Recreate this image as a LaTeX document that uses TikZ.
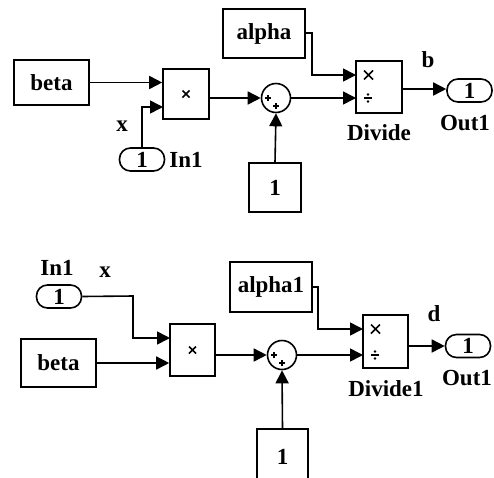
\documentclass[tikz,border=0pt]{standalone}
\usepackage{fontspec}
\setmainfont{Liberation Serif}
\usetikzlibrary{arrows.meta,calc}
\tikzset{
  every node/.style={font=\fontsize{23}{23}\selectfont\bfseries},
  blk/.style={draw, line width=1.6pt, inner sep=0pt},
  port/.style={draw, line width=1.6pt, inner sep=0pt, rounded corners=11pt, minimum width=45pt, minimum height=23pt},
  sumc/.style={draw, circle, line width=1.6pt, inner sep=0pt, minimum size=29pt},
  wire/.style={line width=1.6pt, -{Triangle[length=13pt,width=13pt]}},
  sym/.style={line width=1.7pt},
  lbl/.style={inner sep=0pt}
}
\begin{document}
\begin{tikzpicture}[x=1pt,y=-1pt]
\useasboundingbox (0,0) rectangle (494,477);
\clip (0,0) rectangle (494,477);
% ===== top diagram =====
\node[blk, minimum width=75pt, minimum height=45pt] (beta1) at (51.5,82.5) {beta};
\node[blk, minimum width=46pt, minimum height=50pt] (prod1) at (186,94) {};
\node[blk, minimum width=82pt, minimum height=49pt] (alpha1) at (264,33.5) {alpha};
\node[sumc] (sum1) at (276,98) {};
\node[blk, minimum width=46pt, minimum height=52pt] (div1) at (379,87) {};
\node[blk, minimum width=52pt, minimum height=49pt] (const1) at (275,187.5) {1};
\node[port] (out1) at (469.5,90.5) {1};
\node[port] (in1) at (142,159.5) {1};
\node[lbl] (in1l) at (186,160) {In1};
\node[lbl] (xl1) at (122,126) {x};
\node[lbl] (bl) at (428,60) {b};
\node[lbl] (divl1) at (379,133) {Divide};
\node[lbl] (out1l) at (465,123) {Out1};
\coordinate (p1b) at (163,107);
\coordinate (a1bend) at (312,33);
\coordinate (d1a) at (356,75);
\coordinate (d1b) at (356,98);
\coordinate (d1o) at (402,89);
% symbols
\draw[sym] ($(prod1)+(-3.5,-3.5)$) -- ($(prod1)+(3.5,3.5)$) ($(prod1)+(-3.5,3.5)$) -- ($(prod1)+(3.5,-3.5)$);
\draw[sym] ($(sum1)+(-11,0)$) -- ($(sum1)+(-5,0)$) ($(sum1)+(-8,-3)$) -- ($(sum1)+(-8,3)$);
\draw[sym] ($(sum1)+(-3,8)$) -- ($(sum1)+(3,8)$) ($(sum1)+(0,5)$) -- ($(sum1)+(0,11)$);
\draw[sym] ($(d1a)+(8,-4.5)$) -- ($(d1a)+(17,4.5)$) ($(d1a)+(8,4.5)$) -- ($(d1a)+(17,-4.5)$);
\draw[sym] ($(d1b)+(8,0)$) -- ($(d1b)+(16,0)$);
\fill ($(d1b)+(12,-3.5)$) circle (1.3pt) ($(d1b)+(12,3.5)$) circle (1.3pt);
% wires
\draw[wire] (beta1.east) -- (beta1.east -| prod1.west);
\draw[wire] (in1.north) |- (p1b);
\draw[wire] (prod1.east |- sum1) -- (sum1.west);
\draw[wire] (sum1.east) -- (d1b);
\draw[wire] (alpha1.east |- a1bend) -- (a1bend) |- (d1a);
\draw[wire] (const1.north) -- (sum1.south);
\draw[wire] (d1o) -- (d1o -| out1.west);
% ===== bottom diagram =====
\node[port] (in2) at (59,296.5) {1};
\node[lbl] (in2l) at (57,268) {In1};
\node[lbl] (xl2) at (105,272) {x};
\node[blk, minimum width=75pt, minimum height=48pt] (beta2) at (58.5,363) {beta};
\node[blk, minimum width=45pt, minimum height=52pt] (prod2) at (192.5,350) {};
\node[blk, minimum width=82pt, minimum height=50pt] (alpha2) at (271,287) {alpha1};
\node[sumc] (sum2) at (282,355) {};
\node[blk, minimum width=45pt, minimum height=53pt] (div2) at (385.5,341.5) {};
\node[blk, minimum width=51pt, minimum height=64pt, anchor=north] (const2) at (282.5,428) {};
\node[lbl] (const2t) at (282.5,457) {1};
\node[port] (out2) at (468,346) {1};
\node[lbl] (dl) at (434,314) {d};
\node[lbl] (divl2) at (386,389) {Divide1};
\node[lbl] (out2l) at (467,378) {Out1};
\coordinate (i2bend) at (133,296);
\coordinate (p2a) at (170,338);
\coordinate (a2bend) at (318,287);
\coordinate (d2a) at (363,329);
\coordinate (d2b) at (363,355);
\coordinate (d2o) at (408,346);
% symbols
\draw[sym] ($(prod2)+(-3.5,-3.5)$) -- ($(prod2)+(3.5,3.5)$) ($(prod2)+(-3.5,3.5)$) -- ($(prod2)+(3.5,-3.5)$);
\draw[sym] ($(sum2)+(-11,0)$) -- ($(sum2)+(-5,0)$) ($(sum2)+(-8,-3)$) -- ($(sum2)+(-8,3)$);
\draw[sym] ($(sum2)+(-3,8)$) -- ($(sum2)+(3,8)$) ($(sum2)+(0,5)$) -- ($(sum2)+(0,11)$);
\draw[sym] ($(d2a)+(8,-4.5)$) -- ($(d2a)+(17,4.5)$) ($(d2a)+(8,4.5)$) -- ($(d2a)+(17,-4.5)$);
\draw[sym] ($(d2b)+(8,0)$) -- ($(d2b)+(16,0)$);
\fill ($(d2b)+(12,-3.5)$) circle (1.3pt) ($(d2b)+(12,3.5)$) circle (1.3pt);
% wires
\draw[wire] (in2.east) -- (i2bend) |- (p2a);
\draw[wire] (beta2.east) -- (beta2.east -| prod2.west);
\draw[wire] (prod2.east |- sum2) -- (sum2.west);
\draw[wire] (sum2.east) -- (d2b);
\draw[wire] (alpha2.east |- a2bend) -- (a2bend) |- (d2a);
\draw[wire] (const2.north) -- (sum2.south);
\draw[wire] (d2o) -- (d2o -| out2.west);
\end{tikzpicture}
\end{document}
